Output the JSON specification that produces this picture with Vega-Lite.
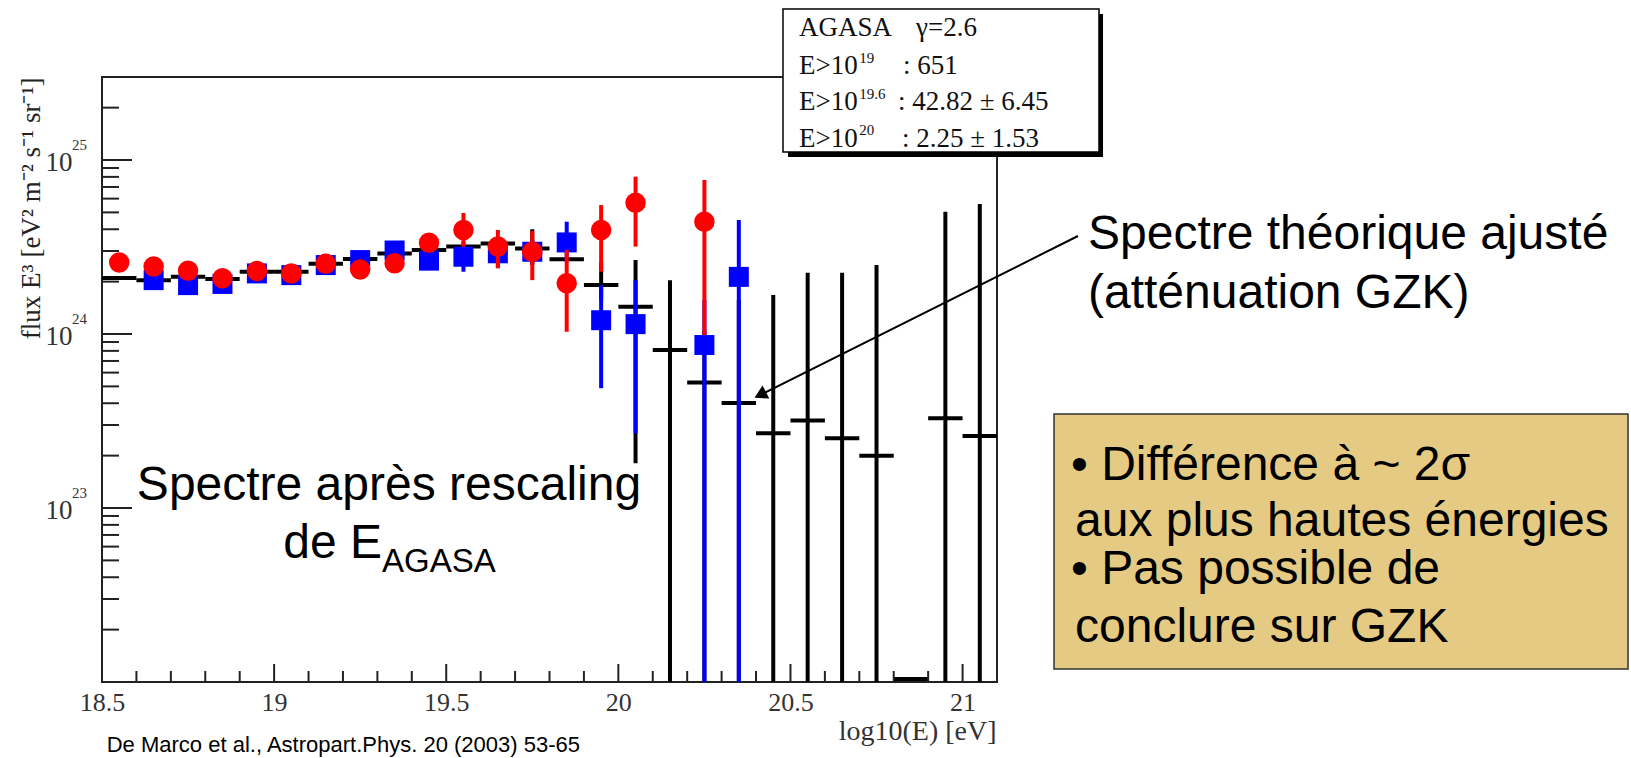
{
  "$schema": "https://vega.github.io/schema/vega-lite/v6.json",
  "width": 895,
  "height": 605,
  "autosize": {"type": "none"},
  "padding": {"left": 102, "top": 77, "right": 634, "bottom": 76},
  "background": "white",
  "config": {
    "view": {"stroke": "#222", "strokeWidth": 2},
    "axis": {"grid": false, "ticks": false, "domain": false, "labelOverlap": false, "titleFontWeight": "normal"}
  },
  "datasets": {
    "theory": [
      {"E0": 18.5, "E1": 18.6, "F": 2.10e24},
      {"E0": 18.6, "E1": 18.7, "F": 2.04e24},
      {"E0": 18.7, "E1": 18.8, "F": 2.13e24},
      {"E0": 18.8, "E1": 18.9, "F": 2.07e24},
      {"E0": 18.9, "E1": 19.0, "F": 2.28e24},
      {"E0": 19.0, "E1": 19.1, "F": 2.28e24},
      {"E0": 19.1, "E1": 19.2, "F": 2.53e24},
      {"E0": 19.2, "E1": 19.3, "F": 2.70e24},
      {"E0": 19.3, "E1": 19.4, "F": 2.90e24},
      {"E0": 19.4, "E1": 19.5, "F": 3.04e24},
      {"E0": 19.5, "E1": 19.6, "F": 3.18e24},
      {"E0": 19.6, "E1": 19.7, "F": 3.31e24},
      {"E0": 19.7, "E1": 19.8, "F": 3.10e24},
      {"E0": 19.8, "E1": 19.9, "F": 2.69e24},
      {"E0": 19.9, "E1": 20.0, "F": 1.91e24},
      {"E0": 20.0, "E1": 20.1, "F": 1.435e24},
      {"E0": 20.1, "E1": 20.2, "F": 8.09e23},
      {"E0": 20.2, "E1": 20.3, "F": 5.27e23},
      {"E0": 20.3, "E1": 20.4, "F": 4.01e23},
      {"E0": 20.4, "E1": 20.5, "F": 2.69e23},
      {"E0": 20.5, "E1": 20.6, "F": 3.18e23},
      {"E0": 20.6, "E1": 20.7, "F": 2.52e23},
      {"E0": 20.7, "E1": 20.8, "F": 2.00e23},
      {"E0": 20.8, "E1": 20.9, "F": 1.04e22},
      {"E0": 20.9, "E1": 21.0, "F": 3.28e23},
      {"E0": 21.0, "E1": 21.1, "F": 2.59e23}
    ],
    "theoryErr": [
      {"E": 19.75, "lo": 2.49e24, "hi": 4.0e24},
      {"E": 19.95, "lo": 1.57e24, "hi": 2.59e24},
      {"E": 20.05, "lo": 1.81e23, "hi": 2.66e24},
      {"E": 20.15, "lo": 1e21, "hi": 2.04e24},
      {"E": 20.25, "lo": 1e21, "hi": 1.05e24},
      {"E": 20.35, "lo": 1e21, "hi": 1.57e24},
      {"E": 20.45, "lo": 1e21, "hi": 1.675e24},
      {"E": 20.55, "lo": 1e21, "hi": 2.25e24},
      {"E": 20.65, "lo": 1e21, "hi": 2.25e24},
      {"E": 20.75, "lo": 1e21, "hi": 2.49e24},
      {"E": 20.95, "lo": 1e21, "hi": 5.05e24},
      {"E": 21.05, "lo": 1e21, "hi": 5.59e24}
    ],
    "blue": [
      {"E": 18.65, "F": 2.04e24, "lo": 1.89e24, "hi": 2.20e24},
      {"E": 18.75, "F": 1.91e24, "lo": 1.77e24, "hi": 2.06e24},
      {"E": 18.85, "F": 1.94e24, "lo": 1.80e24, "hi": 2.09e24},
      {"E": 18.95, "F": 2.23e24, "lo": 2.07e24, "hi": 2.41e24},
      {"E": 19.05, "F": 2.18e24, "lo": 2.02e24, "hi": 2.35e24},
      {"E": 19.15, "F": 2.49e24, "lo": 2.31e24, "hi": 2.69e24},
      {"E": 19.25, "F": 2.66e24, "lo": 2.46e24, "hi": 2.87e24},
      {"E": 19.35, "F": 3.02e24, "lo": 2.60e24, "hi": 3.26e24},
      {"E": 19.45, "F": 2.64e24, "lo": 2.40e24, "hi": 2.90e24},
      {"E": 19.55, "F": 2.78e24, "lo": 2.28e24, "hi": 3.39e24},
      {"E": 19.65, "F": 2.91e24, "lo": 2.39e24, "hi": 3.55e24},
      {"E": 19.75, "F": 2.97e24, "lo": 2.53e24, "hi": 3.48e24},
      {"E": 19.85, "F": 3.36e24, "lo": 2.60e24, "hi": 4.42e24},
      {"E": 19.95, "F": 1.20e24, "lo": 4.88e23, "hi": 1.91e24},
      {"E": 20.05, "F": 1.14e24, "lo": 2.69e23, "hi": 2.04e24},
      {"E": 20.25, "F": 8.65e23, "lo": 1e21, "hi": 1.57e24},
      {"E": 20.35, "F": 2.13e24, "lo": 1e21, "hi": 4.52e24}
    ],
    "red": [
      {"E": 18.55, "F": 2.58e24, "lo": 2.39e24, "hi": 2.79e24},
      {"E": 18.65, "F": 2.44e24, "lo": 2.26e24, "hi": 2.64e24},
      {"E": 18.75, "F": 2.31e24, "lo": 2.14e24, "hi": 2.49e24},
      {"E": 18.85, "F": 2.09e24, "lo": 1.94e24, "hi": 2.26e24},
      {"E": 18.95, "F": 2.30e24, "lo": 2.13e24, "hi": 2.48e24},
      {"E": 19.05, "F": 2.23e24, "lo": 2.06e24, "hi": 2.41e24},
      {"E": 19.15, "F": 2.53e24, "lo": 2.34e24, "hi": 2.73e24},
      {"E": 19.25, "F": 2.35e24, "lo": 2.18e24, "hi": 2.54e24},
      {"E": 19.35, "F": 2.55e24, "lo": 2.36e24, "hi": 2.75e24},
      {"E": 19.45, "F": 3.35e24, "lo": 3.10e24, "hi": 3.62e24},
      {"E": 19.55, "F": 3.96e24, "lo": 3.18e24, "hi": 4.96e24},
      {"E": 19.65, "F": 3.18e24, "lo": 2.39e24, "hi": 3.96e24},
      {"E": 19.75, "F": 2.97e24, "lo": 2.04e24, "hi": 3.91e24},
      {"E": 19.85, "F": 1.96e24, "lo": 1.03e24, "hi": 3.04e24},
      {"E": 19.95, "F": 3.96e24, "lo": 2.28e24, "hi": 5.51e24},
      {"E": 20.05, "F": 5.68e24, "lo": 3.18e24, "hi": 8.02e24},
      {"E": 20.25, "F": 4.42e24, "lo": 9.87e23, "hi": 7.68e24}
    ],
    "xMinor": [
      {"t": 18.6}, {"t": 18.7}, {"t": 18.8}, {"t": 18.9},
      {"t": 19.1}, {"t": 19.2}, {"t": 19.3}, {"t": 19.4},
      {"t": 19.6}, {"t": 19.7}, {"t": 19.8}, {"t": 19.9},
      {"t": 20.1}, {"t": 20.2}, {"t": 20.3}, {"t": 20.4},
      {"t": 20.6}, {"t": 20.7}, {"t": 20.8}, {"t": 20.9}
    ],
    "xMajor": [{"t": 19}, {"t": 19.5}, {"t": 20}, {"t": 20.5}, {"t": 21}],
    "yMinor": [
      {"t": 2e22}, {"t": 3e22}, {"t": 4e22}, {"t": 5e22}, {"t": 6e22}, {"t": 7e22}, {"t": 8e22}, {"t": 9e22},
      {"t": 2e23}, {"t": 3e23}, {"t": 4e23}, {"t": 5e23}, {"t": 6e23}, {"t": 7e23}, {"t": 8e23}, {"t": 9e23},
      {"t": 2e24}, {"t": 3e24}, {"t": 4e24}, {"t": 5e24}, {"t": 6e24}, {"t": 7e24}, {"t": 8e24}, {"t": 9e24},
      {"t": 2e25}
    ],
    "yMajor": [{"t": 1e23}, {"t": 1e24}, {"t": 1e25}],
    "yExp": [{"v": 1e23, "e": "23"}, {"v": 1e24, "e": "24"}, {"v": 1e25, "e": "25"}]
  },
  "layer": [
    {
      "data": {"name": "theory"},
      "mark": {"type": "rule", "strokeWidth": 4, "color": "#000"},
      "encoding": {
        "x": {
          "field": "E0", "type": "quantitative",
          "scale": {"domain": [18.5, 21.1], "nice": false, "zero": false},
          "axis": {
            "values": [18.5, 19, 19.5, 20, 20.5, 21], "format": "~g",
            "labelFont": "Liberation Serif", "labelFontSize": 26, "labelColor": "#333",
            "labelPadding": 7, "labelFlush": false,
            "title": "log10(E) [eV]", "titleFont": "Liberation Serif", "titleFontSize": 28,
            "titleColor": "#333", "titleAlign": "right",
            "titleAnchor": "end", "titleX": 894, "titleY": 57, "titleBaseline": "alphabetic"
          }
        },
        "x2": {"field": "E1"},
        "y": {
          "field": "F", "type": "quantitative",
          "scale": {"type": "log", "domain": [1e22, 3e25], "nice": false},
          "axis": {
            "values": [1e23, 1e24, 1e25], "labelExpr": "'10'",
            "labelFont": "Liberation Serif", "labelFontSize": 27, "labelColor": "#333",
            "labelPadding": 30, "labelOffset": 2,
            "title": "flux E³ [eV² m⁻² s⁻¹ sr⁻¹]", "titleFont": "Liberation Serif",
            "titleFontSize": 27, "titleColor": "#222",
            "titleAngle": -90, "titleAlign": "right", "titleBaseline": "middle",
            "titleX": -71, "titleY": 0
          }
        }
      }
    },
    {
      "data": {"name": "theoryErr"},
      "mark": {"type": "rule", "strokeWidth": 4, "color": "#000", "clip": true},
      "encoding": {
        "x": {"field": "E", "type": "quantitative"},
        "y": {"field": "lo", "type": "quantitative"},
        "y2": {"field": "hi"}
      }
    },
    {
      "data": {"name": "blue"},
      "mark": {"type": "rule", "strokeWidth": 4, "color": "#0000FF", "clip": true},
      "encoding": {
        "x": {"field": "E", "type": "quantitative"},
        "y": {"field": "lo", "type": "quantitative"},
        "y2": {"field": "hi"}
      }
    },
    {
      "data": {"name": "blue"},
      "mark": {"type": "point", "shape": "square", "filled": true, "size": 400, "color": "#0000FF", "opacity": 1},
      "encoding": {
        "x": {"field": "E", "type": "quantitative"},
        "y": {"field": "F", "type": "quantitative"}
      }
    },
    {
      "data": {"name": "red"},
      "mark": {"type": "rule", "strokeWidth": 4, "color": "#FF0000", "clip": true},
      "encoding": {
        "x": {"field": "E", "type": "quantitative"},
        "y": {"field": "lo", "type": "quantitative"},
        "y2": {"field": "hi"}
      }
    },
    {
      "data": {"name": "red"},
      "mark": {"type": "point", "shape": "circle", "filled": true, "size": 420, "color": "#FF0000", "opacity": 1},
      "encoding": {
        "x": {"field": "E", "type": "quantitative"},
        "y": {"field": "F", "type": "quantitative"}
      }
    },
    {
      "data": {"name": "xMinor"},
      "mark": {"type": "tick", "orient": "vertical", "size": 11, "thickness": 2, "color": "#222", "opacity": 1, "yOffset": -5.5},
      "encoding": {
        "x": {"field": "t", "type": "quantitative"},
        "y": {"datum": 1e22, "type": "quantitative"}
      }
    },
    {
      "data": {"name": "xMajor"},
      "mark": {"type": "tick", "orient": "vertical", "size": 18, "thickness": 2, "color": "#222", "opacity": 1, "yOffset": -9},
      "encoding": {
        "x": {"field": "t", "type": "quantitative"},
        "y": {"datum": 1e22, "type": "quantitative"}
      }
    },
    {
      "data": {"name": "yMinor"},
      "mark": {"type": "tick", "orient": "horizontal", "size": 17, "thickness": 2, "color": "#222", "opacity": 1, "xOffset": 8.5},
      "encoding": {
        "x": {"datum": 18.5, "type": "quantitative"},
        "y": {"field": "t", "type": "quantitative"}
      }
    },
    {
      "data": {"name": "yMajor"},
      "mark": {"type": "tick", "orient": "horizontal", "size": 30, "thickness": 2, "color": "#222", "opacity": 1, "xOffset": 15},
      "encoding": {
        "x": {"datum": 18.5, "type": "quantitative"},
        "y": {"field": "t", "type": "quantitative"}
      }
    },
    {
      "data": {"name": "yExp"},
      "mark": {"type": "text", "font": "Liberation Serif", "fontSize": 15, "color": "#333", "align": "left", "baseline": "middle", "dx": -30, "dy": -15},
      "encoding": {
        "x": {"datum": 18.5, "type": "quantitative"},
        "y": {"field": "v", "type": "quantitative"},
        "text": {"field": "e"}
      }
    },
    {
      "data": {"values": [{}]},
      "mark": {"type": "rect", "color": "#000", "opacity": 1},
      "encoding": {
        "x": {"datum": 20.4929, "type": "quantitative"},
        "x2": {"datum": 21.408},
        "y": {"datum": 6.904e25, "type": "quantitative"},
        "y2": {"datum": 1.04e25}
      }
    },
    {
      "data": {"values": [{}]},
      "mark": {"type": "rect", "fill": "#fff", "stroke": "#000", "strokeWidth": 1.5, "opacity": 1},
      "encoding": {
        "x": {"datum": 20.4783, "type": "quantitative"},
        "x2": {"datum": 21.3963},
        "y": {"datum": 7.377e25, "type": "quantitative"},
        "y2": {"datum": 1.112e25}
      }
    },
    {
      "data": {"values": [{}]},
      "mark": {"type": "text", "text": "AGASA", "font": "Liberation Serif", "fontSize": 27, "color": "#111", "align": "left", "baseline": "alphabetic"},
      "encoding": {"x": {"datum": 20.5248, "type": "quantitative"}, "y": {"datum": 5.159e25, "type": "quantitative"}}
    },
    {
      "data": {"values": [{}]},
      "mark": {"type": "text", "text": "γ=2.6", "font": "Liberation Serif", "fontSize": 27, "color": "#111", "align": "left", "baseline": "alphabetic"},
      "encoding": {"x": {"datum": 20.8647, "type": "quantitative"}, "y": {"datum": 5.159e25, "type": "quantitative"}}
    },
    {
      "data": {"values": [{}]},
      "mark": {"type": "text", "text": "E>10", "font": "Liberation Serif", "fontSize": 27, "color": "#111", "align": "left", "baseline": "alphabetic"},
      "encoding": {"x": {"datum": 20.5248, "type": "quantitative"}, "y": {"datum": 3.121e25, "type": "quantitative"}}
    },
    {
      "data": {"values": [{}]},
      "mark": {"type": "text", "text": "19", "font": "Liberation Serif", "fontSize": 15, "color": "#111", "align": "left", "baseline": "alphabetic"},
      "encoding": {"x": {"datum": 20.7, "type": "quantitative"}, "y": {"datum": 3.61e25, "type": "quantitative"}}
    },
    {
      "data": {"values": [{}]},
      "mark": {"type": "text", "text": ": 651", "font": "Liberation Serif", "fontSize": 27, "color": "#111", "align": "left", "baseline": "alphabetic"},
      "encoding": {"x": {"datum": 20.8269, "type": "quantitative"}, "y": {"datum": 3.121e25, "type": "quantitative"}}
    },
    {
      "data": {"values": [{}]},
      "mark": {"type": "text", "text": "E>10", "font": "Liberation Serif", "fontSize": 27, "color": "#111", "align": "left", "baseline": "alphabetic"},
      "encoding": {"x": {"datum": 20.5248, "type": "quantitative"}, "y": {"datum": 1.938e25, "type": "quantitative"}}
    },
    {
      "data": {"values": [{}]},
      "mark": {"type": "text", "text": "19.6", "font": "Liberation Serif", "fontSize": 15, "color": "#111", "align": "left", "baseline": "alphabetic"},
      "encoding": {"x": {"datum": 20.7, "type": "quantitative"}, "y": {"datum": 2.242e25, "type": "quantitative"}}
    },
    {
      "data": {"values": [{}]},
      "mark": {"type": "text", "text": ": 42.82 ± 6.45", "font": "Liberation Serif", "fontSize": 27, "color": "#111", "align": "left", "baseline": "alphabetic"},
      "encoding": {"x": {"datum": 20.8124, "type": "quantitative"}, "y": {"datum": 1.938e25, "type": "quantitative"}}
    },
    {
      "data": {"values": [{}]},
      "mark": {"type": "text", "text": "E>10", "font": "Liberation Serif", "fontSize": 27, "color": "#111", "align": "left", "baseline": "alphabetic"},
      "encoding": {"x": {"datum": 20.5248, "type": "quantitative"}, "y": {"datum": 1.192e25, "type": "quantitative"}}
    },
    {
      "data": {"values": [{}]},
      "mark": {"type": "text", "text": "20", "font": "Liberation Serif", "fontSize": 15, "color": "#111", "align": "left", "baseline": "alphabetic"},
      "encoding": {"x": {"datum": 20.7, "type": "quantitative"}, "y": {"datum": 1.392e25, "type": "quantitative"}}
    },
    {
      "data": {"values": [{}]},
      "mark": {"type": "text", "text": ": 2.25 ± 1.53", "font": "Liberation Serif", "fontSize": 27, "color": "#111", "align": "left", "baseline": "alphabetic"},
      "encoding": {"x": {"datum": 20.824, "type": "quantitative"}, "y": {"datum": 1.192e25, "type": "quantitative"}}
    },
    {
      "data": {"values": [{}]},
      "mark": {"type": "text", "text": "Spectre après rescaling", "font": "Liberation Sans", "fontSize": 48, "color": "#000", "align": "center", "baseline": "alphabetic"},
      "encoding": {"x": {"datum": 19.3337, "type": "quantitative"}, "y": {"datum": 1.112e23, "type": "quantitative"}}
    },
    {
      "data": {"values": [{}]},
      "mark": {"type": "text", "text": "de E", "font": "Liberation Sans", "fontSize": 48, "color": "#000", "align": "left", "baseline": "alphabetic"},
      "encoding": {"x": {"datum": 19.0267, "type": "quantitative"}, "y": {"datum": 5.139e22, "type": "quantitative"}}
    },
    {
      "data": {"values": [{}]},
      "mark": {"type": "text", "text": "AGASA", "font": "Liberation Sans", "fontSize": 33, "color": "#000", "align": "left", "baseline": "alphabetic"},
      "encoding": {"x": {"datum": 19.3134, "type": "quantitative"}, "y": {"datum": 4.304e22, "type": "quantitative"}}
    },
    {
      "data": {"values": [{}]},
      "mark": {"type": "text", "text": "Spectre théorique ajusté", "font": "Liberation Sans", "fontSize": 48, "color": "#000", "align": "left", "baseline": "alphabetic"},
      "encoding": {"x": {"datum": 21.3644, "type": "quantitative"}, "y": {"datum": 3.079e24, "type": "quantitative"}}
    },
    {
      "data": {"values": [{}]},
      "mark": {"type": "text", "text": "(atténuation GZK)", "font": "Liberation Sans", "fontSize": 48, "color": "#000", "align": "left", "baseline": "alphabetic"},
      "encoding": {"x": {"datum": 21.3644, "type": "quantitative"}, "y": {"datum": 1.41e24, "type": "quantitative"}}
    },
    {
      "data": {"values": [{}]},
      "mark": {"type": "rule", "strokeWidth": 2, "color": "#000"},
      "encoding": {
        "x": {"datum": 21.3353, "type": "quantitative"},
        "y": {"datum": 3.658e24, "type": "quantitative"},
        "x2": {"datum": 20.4121},
        "y2": {"datum": 4.467e23}
      }
    },
    {
      "data": {"values": [{}]},
      "mark": {"type": "point", "shape": "triangle-left", "filled": true, "size": 220, "angle": -27, "color": "#000", "opacity": 1},
      "encoding": {
        "x": {"datum": 20.4121, "type": "quantitative"},
        "y": {"datum": 4.467e23, "type": "quantitative"}
      }
    },
    {
      "data": {"values": [{}]},
      "mark": {"type": "rect", "fill": "#E4CA82", "stroke": "#333", "strokeWidth": 1.5, "opacity": 1},
      "encoding": {
        "x": {"datum": 21.2656, "type": "quantitative"},
        "x2": {"datum": 22.9331},
        "y": {"datum": 3.469e23, "type": "quantitative"},
        "y2": {"datum": 1.188e22}
      }
    },
    {
      "data": {"values": [{}]},
      "mark": {"type": "text", "text": "• Différence à ~ 2σ", "font": "Liberation Sans", "fontSize": 48, "color": "#000", "align": "left", "baseline": "alphabetic"},
      "encoding": {"x": {"datum": 21.315, "type": "quantitative"}, "y": {"datum": 1.448e23, "type": "quantitative"}}
    },
    {
      "data": {"values": [{}]},
      "mark": {"type": "text", "text": "aux plus hautes énergies", "font": "Liberation Sans", "fontSize": 48, "color": "#000", "align": "left", "baseline": "alphabetic"},
      "encoding": {"x": {"datum": 21.3266, "type": "quantitative"}, "y": {"datum": 6.904e22, "type": "quantitative"}}
    },
    {
      "data": {"values": [{}]},
      "mark": {"type": "text", "text": "• Pas possible de", "font": "Liberation Sans", "fontSize": 48, "color": "#000", "align": "left", "baseline": "alphabetic"},
      "encoding": {"x": {"datum": 21.315, "type": "quantitative"}, "y": {"datum": 3.658e22, "type": "quantitative"}}
    },
    {
      "data": {"values": [{}]},
      "mark": {"type": "text", "text": "conclure sur GZK", "font": "Liberation Sans", "fontSize": 48, "color": "#000", "align": "left", "baseline": "alphabetic"},
      "encoding": {"x": {"datum": 21.3266, "type": "quantitative"}, "y": {"datum": 1.698e22, "type": "quantitative"}}
    },
    {
      "data": {"values": [{}]},
      "mark": {"type": "text", "text": "De Marco et al., Astropart.Phys. 20 (2003) 53-65", "font": "Liberation Sans", "fontSize": 22, "color": "#000", "align": "left", "baseline": "alphabetic"},
      "encoding": {"x": {"datum": 18.5137, "type": "quantitative"}, "y": {"datum": 3.976e21, "type": "quantitative"}}
    }
  ]
}
